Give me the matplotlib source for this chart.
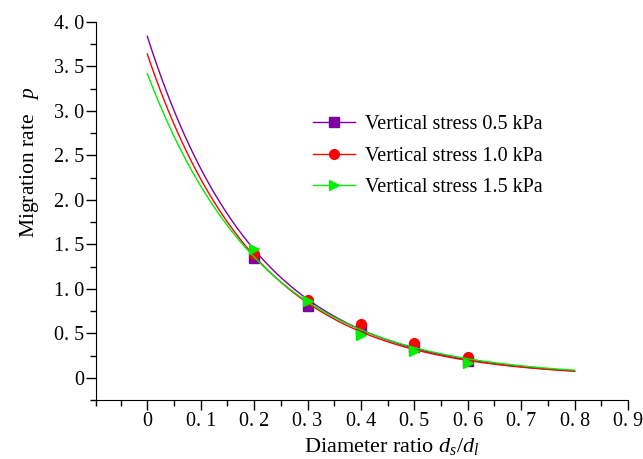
import numpy as np
import matplotlib
matplotlib.use('Agg')
import matplotlib.pyplot as plt
from matplotlib.ticker import MultipleLocator, FixedLocator

plt.rcParams['font.family'] = 'Liberation Serif'
plt.rcParams['mathtext.fontset'] = 'custom'
plt.rcParams['mathtext.rm'] = 'Liberation Serif'
plt.rcParams['mathtext.it'] = 'Liberation Serif:italic'

# measured points (diameter ratio vs migration rate)
ratio = [0.2, 0.3, 0.4, 0.5, 0.6]
p_05 = [1.35, 0.81, 0.55, 0.35, 0.19]
p_10 = [1.39, 0.87, 0.60, 0.39, 0.23]
p_15 = [1.45, 0.86, 0.48, 0.30, 0.17]

# fitted curves p = A * exp(-B * x), drawn over 0..0.8
fit_A = [3.84, 3.64, 3.42]
fit_B = [4.90, 4.88, 4.62]
fit_range = (0.0, 0.8)

labels = ['Vertical stress 0.5 kPa', 'Vertical stress 1.0 kPa', 'Vertical stress 1.5 kPa']
colors = ['#7f00a0', '#ff0000', '#00ee00']
markers = ['s', 'o', '>']

xticks = [0, 0.1, 0.2, 0.3, 0.4, 0.5, 0.6, 0.7, 0.8, 0.9]
xtick_labels = ['0', '0. 1', '0. 2', '0. 3', '0. 4', '0. 5', '0. 6', '0. 7', '0. 8', '0. 9']
yticks = [0, 0.5, 1.0, 1.5, 2.0, 2.5, 3.0, 3.5, 4.0]
ytick_labels = ['0', '0. 5', '1. 0', '1. 5', '2. 0', '2. 5', '3. 0', '3. 5', '4. 0']

fig = plt.figure(figsize=(6.43, 4.59), dpi=100)
ax = fig.add_axes([96 / 643, 1 - 400 / 459, 532 / 643, 378 / 459])

xs = np.linspace(fit_range[0], fit_range[1], 200)
for A, B, ys, lab, c, m in zip(fit_A, fit_B, [p_05, p_10, p_15], labels, colors, markers):
    ax.plot(xs, A * np.exp(-B * xs), color=c, lw=1.0)
    ax.plot(ratio, ys, linestyle='none', marker=m, color=c, markersize=7)
    # legend proxy: line + marker
    ax.plot([], [], color=c, lw=1.0, marker=m, markersize=7, label=lab)

x_left = -0.096
ax.set_xlim(x_left, 0.9)
ax.set_ylim(-0.25, 4.0)
ax.xaxis.set_major_locator(FixedLocator(xticks))
ax.set_xticklabels(xtick_labels)
ax.xaxis.set_minor_locator(FixedLocator([x_left] + list(np.arange(-0.05, 0.9, 0.1))))
ax.yaxis.set_major_locator(FixedLocator(yticks))
ax.set_yticklabels(ytick_labels)
ax.yaxis.set_minor_locator(MultipleLocator(0.25))
ax.tick_params(which='major', direction='out', length=7, width=1, labelsize=14.5, pad=1.5)
ax.tick_params(which='minor', direction='out', length=4, width=1)
for s in ['top', 'right']:
    ax.spines[s].set_visible(False)

ax.set_xlabel(r'Diameter ratio $d_s/d_l$', fontsize=16)
ax.set_ylabel(r'Migration rate$\quad p$', fontsize=15.5)
ax.xaxis.set_label_coords(0.556, -0.095)
ax.yaxis.set_label_coords(-0.103, 0.628)

fig.legend(loc='upper left', bbox_to_anchor=(313 / 643, 1 - 115 / 459), frameon=False,
           fontsize=14.5, handlelength=2.1, handletextpad=0.5, labelspacing=0.62,
           borderpad=0, borderaxespad=0)

fig.savefig('out.png', dpi=100)
